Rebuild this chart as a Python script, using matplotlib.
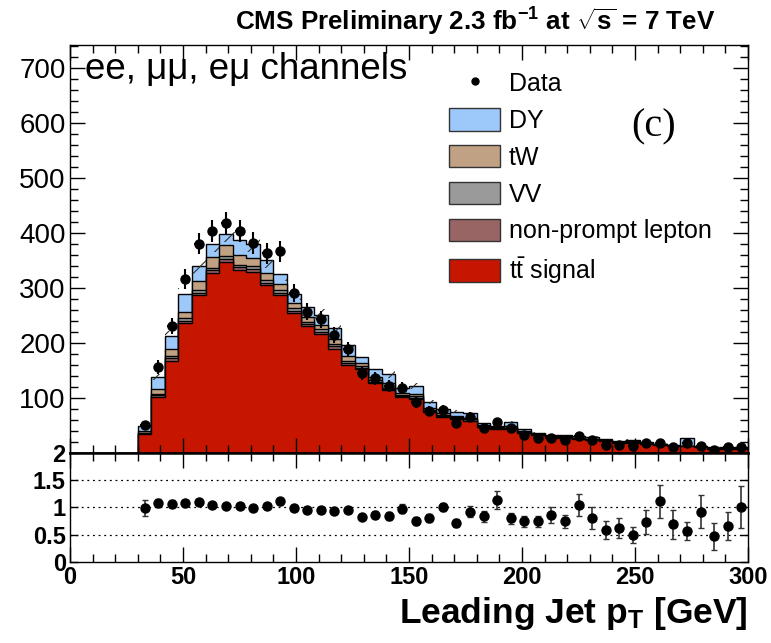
import numpy as np
import matplotlib
matplotlib.use("Agg")
import matplotlib.pyplot as plt
from matplotlib.ticker import MultipleLocator, FixedLocator
from matplotlib.patches import Patch
from matplotlib.lines import Line2D

plt.rcParams["font.family"] = ["Liberation Sans", "DejaVu Sans"]
plt.rcParams["mathtext.fontset"] = "custom"
plt.rcParams["mathtext.rm"] = "Liberation Sans"
plt.rcParams["mathtext.bf"] = "Liberation Sans:bold"
plt.rcParams["mathtext.it"] = "Liberation Sans:italic"
plt.rcParams["hatch.linewidth"] = 0.8

# 6 GeV bins from 30 to 300 GeV
edges = np.arange(30, 301, 6)
centers = 0.5 * (edges[:-1] + edges[1:])

ttbar = [34, 102, 168, 236, 287, 327, 348, 333, 330, 305, 287, 255, 231, 216, 190,
         160, 152, 127, 114, 101, 98, 74, 66, 62, 58, 47, 43, 44, 36, 32,
         28, 27, 26, 24, 21, 19, 19, 16, 15, 12.5, 12, 10, 8, 7.5, 7.5]
nonprompt = [2, 3, 4, 4, 4, 5, 5, 5, 5, 5, 4, 4, 4, 4, 4,
             3, 3, 3, 2, 2, 2, 2, 1, 1, 1, 1, 1, 1, 1, 0.5,
             0.5, 0.5, 0.5, 0.5, 0.5, 0.3, 0.5, 0.3, 0.2, 0.2, 0.2, 0.2, 0.2, 0.2, 0.2]
vv = [1, 3, 5, 5, 5, 4, 5, 4, 5, 4, 5, 4, 4, 5, 4,
      4, 3, 3, 3, 2, 3, 2, 2, 2, 2, 1, 1, 1, 1, 1,
      1, 1, 0.5, 0.5, 0.5, 0.5, 0.5, 0.5, 0.3, 0.3, 0.3, 0.3, 0.3, 0.3, 0.3]
tw = [3, 8, 12, 12, 17, 21, 20, 18, 15, 13, 11, 10, 9, 8, 9,
      10, 5, 6, 8, 4, 5, 4, 3, 3, 3, 2, 2, 3, 2, 1.5,
      1.5, 1.5, 1, 1, 1, 0.7, 1, 0.7, 0.5, 0.5, 0.5, 0.5, 0.5, 0.5, 0.5]
dy = [9, 23, 24, 32, 27, 24, 21, 27, 25, 24, 18, 17, 18, 18, 20,
      20, 12, 13, 16, 10, 14, 11, 8, 7, 8, 3, 3, 7, 3, 2,
      2, 2, 2, 3, 2, 2, 3, 2, 1, 0.5, 14, 2, 1, 1.5, 1.5]
data = [51, 156, 231, 316, 381, 404, 418, 403, 382, 363, 367, 291, 257, 243, 215,
        189, 145, 136, 122, 118, 92, 76, 79, 54, 66, 45, 57, 45, 32, 28,
        28, 24, 31, 23, 15, 14, 13, 18, 19, 10, 18, 13, 6, 11, 11]

ratio = [0.99, 1.08, 1.07, 1.08, 1.10, 1.04, 1.02, 1.02, 0.99, 1.02, 1.11, 0.99, 0.95, 0.95, 0.94,
         0.95, 0.83, 0.87, 0.84, 0.98, 0.75, 0.81, 1.01, 0.72, 0.92, 0.84, 1.14, 0.80, 0.75, 0.75,
         0.86, 0.75, 1.04, 0.81, 0.59, 0.62, 0.50, 0.74, 1.11, 0.69, 0.57, 0.92, 0.47, 0.66, 1.01]
ratio_err = [0.15, 0.08, 0.06, 0.06, 0.06, 0.05, 0.05, 0.05, 0.05, 0.05, 0.06, 0.05, 0.05, 0.05, 0.05,
             0.05, 0.05, 0.06, 0.07, 0.09, 0.07, 0.07, 0.08, 0.07, 0.10, 0.10, 0.17, 0.10, 0.10, 0.10,
             0.14, 0.12, 0.20, 0.20, 0.17, 0.18, 0.15, 0.22, 0.30, 0.26, 0.17, 0.30, 0.25, 0.26, 0.38]

SYST = 0.04  # relative size of the hatched MC uncertainty band

C_DY = "#9cc9fa"
C_TW = "#c0a183"
C_VV = "#9a9a9a"
C_NP = "#996464"
C_TT = "#c61600"

fig = plt.figure(figsize=(7.71, 6.43), dpi=100)
ax = fig.add_axes([0.0908, 0.2955, 0.8794, 0.6345])
rax = fig.add_axes([0.0908, 0.126, 0.8794, 0.1695])

# stacked MC, drawn from the top layer down
layers = [ttbar, nonprompt, vv, tw, dy]
colors = [C_TT, C_NP, C_VV, C_TW, C_DY]
cum = np.cumsum(np.array(layers, dtype=float), axis=0)
for i in range(len(layers) - 1, -1, -1):
    ax.stairs(cum[i], edges, baseline=0, fill=True, facecolor=colors[i],
              edgecolor="black", linewidth=1.0)

total = cum[-1]
ax.stairs(total * (1 + SYST), edges, baseline=total * (1 - SYST), fill=True,
          facecolor="none", edgecolor="#303030", linewidth=0, hatch="/")

data_arr = np.array(data, dtype=float)
ax.errorbar(centers, data_arr, yerr=np.sqrt(data_arr), xerr=2.0, fmt="o",
            color="black", ms=6.5, elinewidth=1.5, capsize=0)

ax.set_xlim(0, 300)
ax.set_ylim(0, 742)
ax.xaxis.set_major_locator(MultipleLocator(50))
ax.xaxis.set_minor_locator(MultipleLocator(10))
ax.yaxis.set_major_locator(FixedLocator([100, 200, 300, 400, 500, 600, 700]))
ax.yaxis.set_minor_locator(MultipleLocator(20))
ax.tick_params(which="both", direction="in", top=True, right=True, labelbottom=False)
ax.tick_params(which="major", length=11, width=1.0)
ax.tick_params(which="minor", length=5.5, width=1.0)
ax.tick_params(axis="y", labelsize=20, pad=3)
for s in ax.spines.values():
    s.set_linewidth(1.0)
ax.spines["bottom"].set_linewidth(1.8)

ax.text(0.022, 0.94, "ee, μμ, eμ channels", transform=ax.transAxes,
        fontsize=26.5, va="center", ha="left")
ax.text(0.861, 0.80, "(c)", transform=ax.transAxes, fontsize=29,
        family=["Liberation Serif", "DejaVu Serif"], va="center", ha="center")

handles = [
    Line2D([], [], marker="o", color="black", ls="none", ms=5),
    Patch(facecolor=C_DY, edgecolor="#333333"),
    Patch(facecolor=C_TW, edgecolor="#333333"),
    Patch(facecolor=C_VV, edgecolor="#333333"),
    Patch(facecolor=C_NP, edgecolor="#333333"),
    Patch(facecolor=C_TT, edgecolor="#333333"),
]
labels = ["Data", "DY", "tW", "VV", "non-prompt lepton", r"$\mathrm{t\bar{t}}$ signal"]
ax.legend(handles, labels, loc="upper left", bbox_to_anchor=(0.559, 0.935),
          frameon=False, fontsize=18, handlelength=2.05, handleheight=1.0,
          labelspacing=0.48, handletextpad=0.35, borderaxespad=0, borderpad=0)

fig.text(0.616, 0.966, r"CMS Preliminary 2.3 fb$^{\mathbf{-1}}$ at $\sqrt{\mathbf{s}}$ = 7 TeV",
         fontsize=18.7, fontweight="bold", ha="center", va="center")

# ratio panel
rax.errorbar(centers, ratio, yerr=ratio_err, fmt="o", color="black", ms=6.5,
             ecolor="#333333", elinewidth=1.2, capsize=2)
for yv in (0.5, 1.0, 1.5):
    rax.axhline(yv, color="black", ls=(0, (1.5, 3)), lw=0.9, zorder=0)
rax.set_xlim(0, 300)
rax.set_ylim(0, 2)
rax.xaxis.set_major_locator(MultipleLocator(50))
rax.xaxis.set_minor_locator(MultipleLocator(10))
rax.set_yticks([0, 0.5, 1, 1.5, 2])
rax.set_yticklabels(["0", "0.5", "1", "1.5", "2"])
rax.tick_params(which="both", direction="in", top=True, right=True)
rax.tick_params(which="major", length=11, width=1.0)
rax.tick_params(which="minor", length=5.5, width=1.0)
rax.tick_params(axis="y", which="major", length=6)
rax.tick_params(labelsize=17, pad=3)
for lab in rax.get_xticklabels() + rax.get_yticklabels():
    lab.set_fontweight("bold")
for s in rax.spines.values():
    s.set_linewidth(1.0)
rax.spines["top"].set_linewidth(1.8)

rax.set_xlabel(r"Leading Jet p$_{\mathbf{T}}$ [GeV]", fontsize=25.5, fontweight="bold",
               loc="right", labelpad=4)

fig.savefig("out.png", dpi=100)
